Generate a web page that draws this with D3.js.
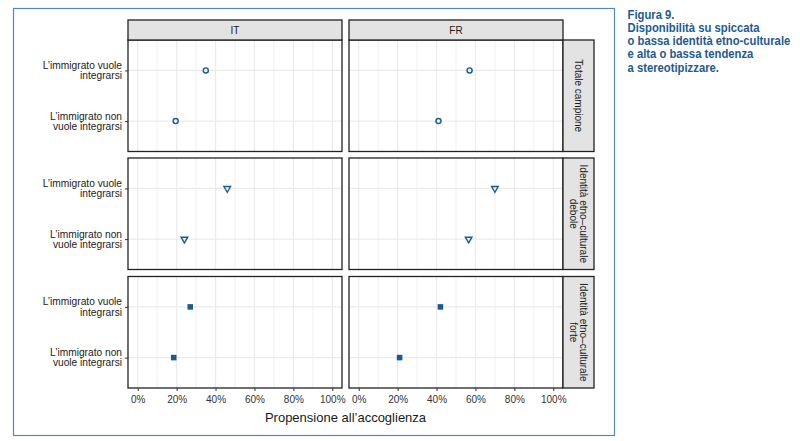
<!DOCTYPE html>
<html>
<head>
<meta charset="utf-8">
<script src="https://cdn.jsdelivr.net/npm/d3@7"></script>
<style>
  body { margin: 0; background: #fff; }
  svg { display: block; }
</style>
</head>
<body>
<div id="chart"></div>
<script>
// ---------------------------------
// Data
// ---------------------------------
const countries = ["IT", "FR"];
const groups = ["Totale campione", "Identità etno\u2013culturale debole", "Identità etno\u2013culturale forte"];
const groupLines = [["Totale campione"], ["Identità etno\u2013culturale", "debole"], ["Identità etno\u2013culturale", "forte"]];
const answers = ["L\u2019immigrato vuole integrarsi", "L\u2019immigrato non vuole integrarsi"];
const answerLines = [["L\u2019immigrato vuole", "integrarsi"], ["L\u2019immigrato non", "vuole integrarsi"]];
const xTicks = [0, 20, 40, 60, 80, 100];

// values in % : [group] -> [vuole, non vuole]
const valuesIT = [[35, 19.5], [46, 24], [27, 18.5]];
const valuesFR = [[57, 41], [70, 56.5], [42, 21]];

const titleLines = ["Figura 9.", "Disponibilità su spiccata", "o bassa identità etno-culturale",
                    "e alta o bassa tendenza", "a stereotipizzare."];

// ---------------------------------
// Layout
// ---------------------------------
const W = 800, H = 441;
const panelW = 214, panelGap = 7;
const panelLeft = [128, 128 + panelW + panelGap];
const stripTop = 20, stripH = 20;
const rowTop = [40, 158, 276.5], rowH = 111.5;
const stripRightX = panelLeft[1] + panelW, stripRightW = 31;
const blue = "#1b5b8f";
const font = "Liberation Sans, Arial, sans-serif";

const svg = d3.select("#chart").append("svg")
    .attr("width", W).attr("height", H);

// Outer frame
svg.append("rect")
    .attr("x", 13.5).attr("y", 8.5)
    .attr("width", 601).attr("height", 427)
    .attr("fill", "none").attr("stroke", "#4f8bbf").attr("stroke-width", 1.2);

// Title text (squeezed to the width of the original condensed face)
const titleG = svg.append("g");
const title = titleG.append("text")
    .attr("fill", "#1d5a94")
    .style("font-family", "Liberation Sans Narrow, Arial Narrow, Liberation Sans, sans-serif")
    .style("font-weight", "bold")
    .style("font-size", "12.5px");
title.selectAll("tspan").data(titleLines).join("tspan")
    .attr("x", 0).attr("y", (d, i) => i * 13.3)
    .text(d => d);
const widest = d3.max(title.selectAll("tspan").nodes(), n => n.getComputedTextLength());
titleG.attr("transform", `translate(627.5,18.5) scale(${163 / widest},1)`);

// Scales
const xScales = panelLeft.map(l => d3.scaleLinear().domain([-5, 105]).range([l, l + panelW]));
const yScales = rowTop.map(t => d3.scalePoint().domain(answers).range([t, t + rowH]).padding(0.6));

const allValues = [valuesIT, valuesFR];

groups.forEach((g, gi) => {
    const y = yScales[gi];
    countries.forEach((c, ci) => {
        const x = xScales[ci];
        const p = svg.append("g");

        // minor grid
        p.selectAll(".minor").data(d3.range(10, 100, 20)).join("line")
            .attr("x1", d => x(d)).attr("x2", d => x(d))
            .attr("y1", rowTop[gi]).attr("y2", rowTop[gi] + rowH)
            .attr("stroke", "#f0f0f0").attr("stroke-width", 1);
        // major grid
        p.selectAll(".major").data(xTicks).join("line")
            .attr("x1", d => x(d)).attr("x2", d => x(d))
            .attr("y1", rowTop[gi]).attr("y2", rowTop[gi] + rowH)
            .attr("stroke", "#ebebeb").attr("stroke-width", 1.2);
        p.selectAll(".hgrid").data(answers).join("line")
            .attr("x1", x.range()[0]).attr("x2", x.range()[1])
            .attr("y1", d => y(d)).attr("y2", d => y(d))
            .attr("stroke", "#ebebeb").attr("stroke-width", 1.2);

        // points
        const vals = allValues[ci][gi];
        const sym = gi === 0 ? d3.symbolCircle : gi === 1 ? d3.symbolTriangle : d3.symbolSquare;
        const size = gi === 0 ? 20 : gi === 1 ? 19 : 31;
        p.selectAll(".pt").data(answers).join("path")
            .attr("transform", (d, i) => `translate(${x(vals[i])},${y(d)})` + (gi === 1 ? " rotate(180)" : ""))
            .attr("d", d3.symbol().type(sym).size(size))
            .attr("fill", gi === 2 ? blue : "none")
            .attr("stroke", gi === 2 ? "none" : blue)
            .attr("stroke-width", 1.4);

        // panel border
        p.append("rect")
            .attr("x", x.range()[0]).attr("y", rowTop[gi])
            .attr("width", panelW).attr("height", rowH)
            .attr("fill", "none").attr("stroke", "#222").attr("stroke-width", 1.3);
    });

    // y axis (left column only)
    const yAxis = svg.append("g")
        .attr("transform", `translate(${panelLeft[0]},0)`)
        .call(d3.axisLeft(y).tickSize(3).tickFormat(""));
    yAxis.select(".domain").remove();
    yAxis.selectAll(".tick line").attr("stroke", "#333");
    const lab = svg.append("g");
    answers.forEach((a, ai) => {
        const t = lab.append("text")
            .attr("x", panelLeft[0] - 6).attr("y", y(a))
            .attr("text-anchor", "end")
            .attr("fill", "#222")
            .style("font-family", font).style("font-size", "10.2px");
        answerLines[ai].forEach((line, li) => {
            t.append("tspan").attr("x", panelLeft[0] - 6)
                .attr("dy", li ? 10.3 : -1.5)
                .text(line);
        });
    });

    // right strip
    svg.append("rect")
        .attr("x", stripRightX).attr("y", rowTop[gi])
        .attr("width", stripRightW).attr("height", rowH)
        .attr("fill", "#e3e3e3").attr("stroke", "#222").attr("stroke-width", 1.3);
    const cx = stripRightX + stripRightW / 2, cy = rowTop[gi] + rowH / 2;
    const st = svg.append("text")
        .attr("transform", `translate(${cx},${cy}) rotate(90)`)
        .attr("text-anchor", "middle")
        .attr("fill", "#1a1a1a")
        .style("font-family", font).style("font-size", "10px");
    const nl = groupLines[gi].length;
    groupLines[gi].forEach((line, li) => {
        st.append("tspan").attr("x", 0)
            .attr("y", (li - (nl - 1) / 2) * 10.3 + 3.5)
            .text(line);
    });
});

// top strips
countries.forEach((c, ci) => {
    svg.append("rect")
        .attr("x", panelLeft[ci]).attr("y", stripTop)
        .attr("width", panelW).attr("height", stripH)
        .attr("fill", "#e3e3e3").attr("stroke", "#222").attr("stroke-width", 1.3);
    svg.append("text")
        .attr("x", panelLeft[ci] + panelW / 2).attr("y", stripTop + stripH / 2 + 3.5)
        .attr("text-anchor", "middle")
        .attr("fill", "#1a1a1a")
        .style("font-family", font).style("font-size", "10px")
        .text(c);

    // bottom x axis
    const xAxis = svg.append("g")
        .attr("transform", `translate(0,${rowTop[2] + rowH})`)
        .call(d3.axisBottom(xScales[ci]).tickValues(xTicks).tickSize(3).tickFormat(d => d + "%"));
    xAxis.select(".domain").remove();
    xAxis.selectAll(".tick line").attr("stroke", "#333");
    xAxis.selectAll(".tick text")
        .attr("fill", "#333")
        .attr("dy", "0.9em")
        .style("font-family", font).style("font-size", "10px");
});

// x axis title
svg.append("text")
    .attr("x", (panelLeft[0] + panelLeft[1] + panelW) / 2).attr("y", 422)
    .attr("text-anchor", "middle")
    .attr("fill", "#1a1a1a")
    .style("font-family", font).style("font-size", "13px")
    .text("Propensione all\u2019accoglienza");
</script>
</body>
</html>
